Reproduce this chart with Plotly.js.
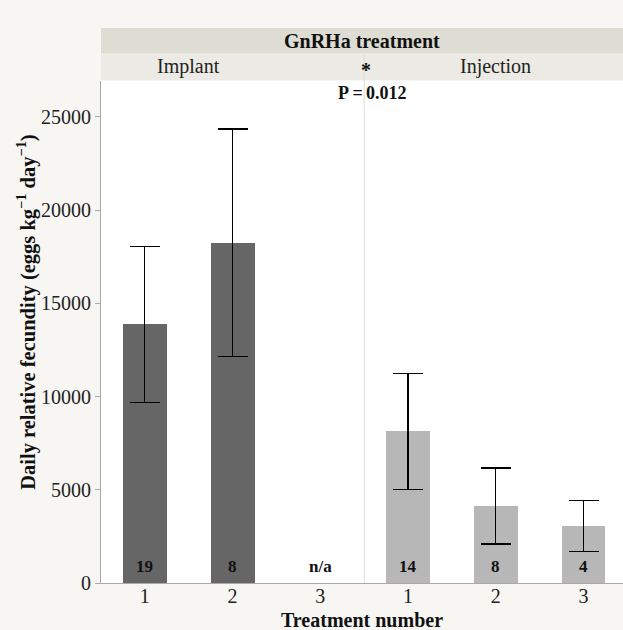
<!DOCTYPE html>
<html>
<head>
<meta charset="utf-8">
<script src="https://cdn.plot.ly/plotly-3.0.1.min.js"></script>
<style>html,body{margin:0;padding:0;background:#f7f6f3;}#chart{width:623px;height:630px;}</style>
</head>
<body>
<div id="chart"></div>
<script>
// Data
var groups = ["Implant", "Implant", "Implant", "Injection", "Injection", "Injection"];
var tickLabels = ["1", "2", "3", "1", "2", "3"];
var meanFecundity = [13870, 18240, null, 8130, 4130, 3060];
var errFecundity = [4180, 6110, null, 3100, 2040, 1350];
var sampleN = ["19", "8", "n/a", "14", "8", "4"];
var pText = ["P =", "0.012"];

var xpos = tickLabels.map(function(_, i){ return i; });
var implantIdx = xpos.filter(function(i){ return groups[i] === "Implant"; });
var injectIdx = xpos.filter(function(i){ return groups[i] === "Injection"; });

function mkTrace(idx, color) {
  return {
    type: "bar",
    x: idx,
    y: idx.map(function(i){ return meanFecundity[i]; }),
    width: 0.5,
    marker: {color: color, line: {width: 0}},
    error_y: {type: "data", array: idx.map(function(i){ return errFecundity[i]; }),
              visible: true, color: "#000", thickness: 1.2, width: 15},
    hoverinfo: "none",
    showlegend: false
  };
}

var serif = '"Liberation Serif", "Times New Roman", Times, serif';
var annotations = [];
xpos.forEach(function(i){
  annotations.push({x: i, y: 0, xref: "x", yref: "paper", yanchor: "bottom", yshift: 5,
    text: "<b>" + sampleN[i] + "</b>", showarrow: false, font: {family: serif, size: 17, color: "#111"}});
});
annotations.push({x: 0.5, y: 1.08, xref: "paper", yref: "paper", yanchor: "middle",
  text: "<b>GnRHa treatment</b>", showarrow: false, font: {family: serif, size: 20, color: "#111"}});
annotations.push({x: 0.5, y: 1.028, xref: "x", yref: "paper", yanchor: "middle", xanchor: "center",
  text: "Implant", showarrow: false, font: {family: serif, size: 20, color: "#222"}});
annotations.push({x: 4, y: 1.028, xref: "x", yref: "paper", yanchor: "middle", xanchor: "center",
  text: "Injection", showarrow: false, font: {family: serif, size: 20, color: "#222"}});
annotations.push({x: 2.5, y: 1.022, xref: "x", yref: "paper", yanchor: "middle", xanchor: "center", xshift: 2,
  text: "<b>*</b>", showarrow: false, font: {family: serif, size: 20, color: "#111"}});
annotations.push({x: 2.5, y: 0.976, xref: "x", yref: "paper", yanchor: "middle", xanchor: "right", xshift: 1,
  text: "<b>" + pText[0] + "</b>", showarrow: false, font: {family: serif, size: 18, color: "#111"}});
annotations.push({x: 2.5, y: 0.976, xref: "x", yref: "paper", yanchor: "middle", xanchor: "left", xshift: 0,
  text: "<b>" + pText[1] + "</b>", showarrow: false, font: {family: serif, size: 18, color: "#111"}});
// axis titles
annotations.push({x: 0.5, y: 0, xref: "paper", yref: "paper", yanchor: "middle", yshift: -37,
  text: "<b>Treatment number</b>", showarrow: false, font: {family: serif, size: 20, color: "#111"}});
annotations.push({x: -0.142, y: 0.54, xref: "paper", yref: "paper", xanchor: "center", yanchor: "middle", textangle: -90,
  text: "<b>Daily relative fecundity (eggs kg<sup>−1</sup> day<sup>−1</sup>)</b>", showarrow: false,
  font: {family: serif, size: 20.5, color: "#111"}});

var layout = {
  width: 623, height: 630,
  margin: {l: 101, r: 0, t: 81, b: 47},
  paper_bgcolor: "#f7f6f3",
  plot_bgcolor: "#ffffff",
  font: {family: serif, size: 20, color: "#222"},
  xaxis: {
    range: [-0.5, 5.45], tickvals: xpos, ticktext: tickLabels,
    showgrid: false, zeroline: false, showline: true, linecolor: "#aaaaaa", linewidth: 1,
    ticks: "", ticklabelstandoff: -5, tickfont: {family: serif, size: 20, color: "#222"},
    fixedrange: true
  },
  yaxis: {
    range: [0, 26930], tickvals: [0, 5000, 10000, 15000, 20000, 25000],
    ticktext: ["0", "5000", "10000", "15000", "20000", "25000"],
    showgrid: false, zeroline: false, showline: true, linecolor: "#aaaaaa", linewidth: 1,
    ticks: "outside", ticklen: 5, tickcolor: "#aaaaaa",
    tickfont: {family: serif, size: 20, color: "#222"},
    fixedrange: true
  },
  shapes: [
    {type: "rect", xref: "paper", yref: "paper", x0: 0, x1: 1, y0: 1.0538, y1: 1.1056,
     fillcolor: "#deddd3", line: {width: 0}, layer: "below"},
    {type: "rect", xref: "paper", yref: "paper", x0: 0, x1: 1, y0: 1.002, y1: 1.0538,
     fillcolor: "#ebeae4", line: {width: 0}, layer: "below"},
    {type: "line", xref: "paper", yref: "paper", x0: 0, x1: 1, y0: 1.0538, y1: 1.0538,
     line: {color: "#f2f1ec", width: 1}},
    {type: "line", xref: "x", yref: "paper", x0: 2.5, x1: 2.5, y0: 0, y1: 1.0538,
     line: {color: "#dcdcdc", width: 1}, layer: "below"}
  ],
  annotations: annotations,
  bargap: 0
};

Plotly.newPlot("chart", [mkTrace(implantIdx, "#666666"), mkTrace(injectIdx, "#b7b7b7")], layout,
  {displayModeBar: false, staticPlot: true});
</script>
</body>
</html>
